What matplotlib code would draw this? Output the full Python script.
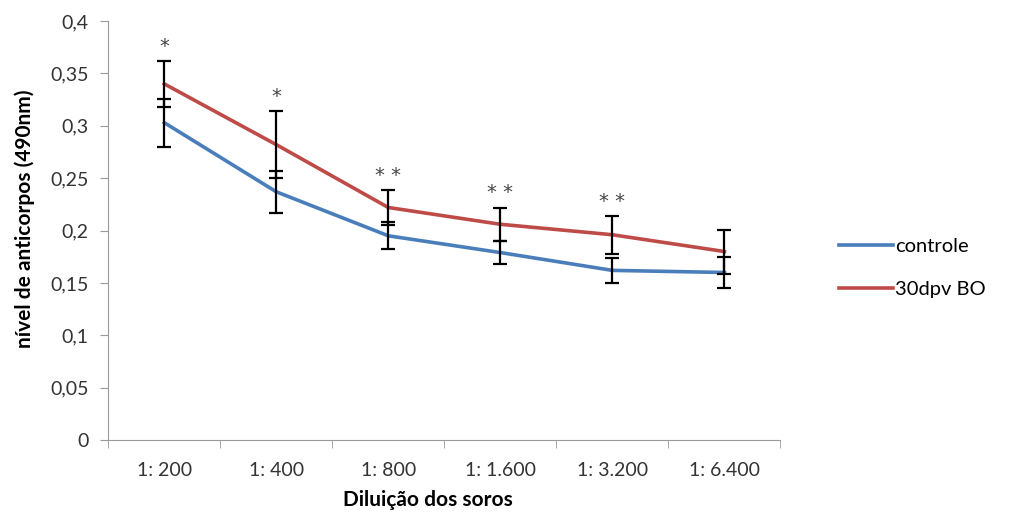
import numpy as np
import matplotlib
matplotlib.use('Agg')
import matplotlib.pyplot as plt

plt.rcParams['font.family'] = ['Lato', 'DejaVu Sans']

# Werte
diluicoes = ['1: 200', '1: 400', '1: 800', '1: 1.600', '1: 3.200', '1: 6.400']
controle = [0.303, 0.237, 0.195, 0.179, 0.162, 0.160]
controle_err = [0.023, 0.020, 0.013, 0.011, 0.012, 0.015]
bo30 = [0.340, 0.282, 0.222, 0.206, 0.196, 0.180]
bo30_err = [0.022, 0.032, 0.017, 0.016, 0.018, 0.021]
sig = ['*', '*', '**', '**', '**', '']

x = np.arange(len(diluicoes))

fig = plt.figure(figsize=(10.11, 5.24), dpi=100)
ax = fig.add_axes([0.107, 0.16, 0.665, 0.80])

ax.plot(x, controle, color='#4a7ebb', lw=2.6, label='controle', zorder=3)
ax.plot(x, bo30, color='#be4b48', lw=2.6, label='30dpv BO', zorder=3)
ax.errorbar(x, controle, yerr=controle_err, fmt='none', ecolor='black', elinewidth=1.6, capsize=5, capthick=1.6, zorder=4)
ax.errorbar(x, bo30, yerr=bo30_err, fmt='none', ecolor='black', elinewidth=1.6, capsize=5, capthick=1.6, zorder=4)

for xi, v, e, s in zip(x, bo30, bo30_err, sig):
    if s:
        ax.text(xi, v + e + 0.014, s.replace('**', '* *'), ha='center', va='center',
                fontsize=14, color='#444444', family='DejaVu Sans')

ax.set_xlim(-0.5, len(diluicoes) - 0.5)
ax.set_ylim(0, 0.4)
ax.set_yticks(np.arange(0, 0.41, 0.05))
ax.set_yticklabels(['0', '0,05', '0,1', '0,15', '0,2', '0,25', '0,3', '0,35', '0,4'])
ax.set_xticks(x)
ax.set_xticklabels(diluicoes)
ax.set_xticks(np.arange(-0.5, len(diluicoes)), minor=True)
ax.tick_params(axis='x', which='major', length=0, pad=16, labelsize=14, colors='#333333')
ax.tick_params(axis='x', which='minor', length=6, color='#999999')
ax.tick_params(axis='y', length=6, color='#999999', labelsize=14, labelcolor='#333333', pad=8)

for s in ['top', 'right']:
    ax.spines[s].set_visible(False)
for s in ['left', 'bottom']:
    ax.spines[s].set_color('#999999')

ax.set_ylabel('nível de anticorpos (490nm)', fontsize=15, fontweight='bold')
ax.yaxis.set_label_coords(-0.109, 0.527)
ax.set_xlabel('Diluição dos soros', fontsize=15, fontweight='bold')
ax.xaxis.set_label_coords(0.475, -0.118)

ax.legend(loc='center left', bbox_to_anchor=(1.06, 0.41), frameon=False, fontsize=14.5,
          handlelength=2.7, handletextpad=0.1, labelspacing=1.3)

plt.savefig('out.png', dpi=100)
